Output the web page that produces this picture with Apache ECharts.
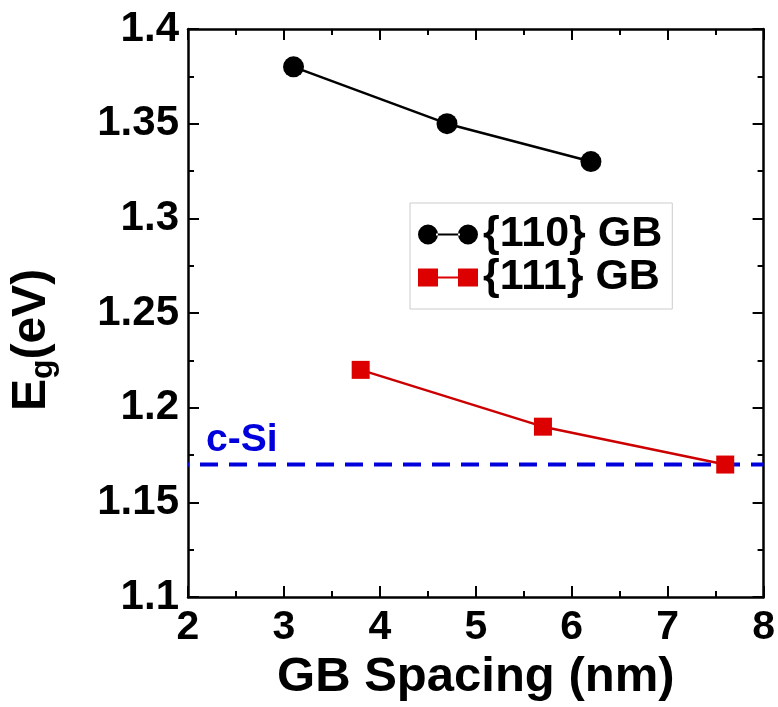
<!DOCTYPE html>
<html>
<head>
<meta charset="utf-8">
<script src="https://cdn.jsdelivr.net/npm/echarts@6/dist/echarts.min.js"></script>
<style>
  html, body { margin: 0; padding: 0; background: #fff; }
  #main { width: 778px; height: 707px; }
</style>
</head>
<body>
<div id="main"></div>
<script>
  // data
  var spacing110 = [3.1, 4.7, 6.2];
  var gap110 = [1.38, 1.35, 1.33];
  var spacing111 = [3.8, 5.7, 7.6];
  var gap111 = [1.22, 1.19, 1.17];
  var cSiX = [2, 8];
  var cSiGap = 1.17;

  function pairs(xs, ys) {
    return xs.map(function (x, i) { return [x, ys[i]]; });
  }

  var font = 'Liberation Sans';
  var chart = echarts.init(document.getElementById('main'));

  var baseX = {
    type: 'value', min: 2, max: 8, interval: 1,
    axisLine: { show: true, onZero: false, lineStyle: { color: '#000', width: 2.5 } },
    axisTick: { show: true, inside: true, length: 11, lineStyle: { color: '#000', width: 2 } },
    minorTick: { show: true, splitNumber: 2, length: 6, lineStyle: { color: '#000', width: 2 } },
    splitLine: { show: false }
  };
  var baseY = {
    type: 'value', min: 1.1, max: 1.4, interval: 0.05,
    axisLine: { show: true, onZero: false, lineStyle: { color: '#000', width: 2.5 } },
    axisTick: { show: true, inside: true, length: 11, lineStyle: { color: '#000', width: 2 } },
    minorTick: { show: true, splitNumber: 2, length: 6, lineStyle: { color: '#000', width: 2 } },
    splitLine: { show: false }
  };

  var option = {
    animation: false,
    backgroundColor: '#fff',
    grid: { left: 188, right: 12, top: 29, bottom: 103 },
    xAxis: [
      Object.assign({}, baseX, {
        position: 'bottom',
        name: 'GB Spacing (nm)',
        nameLocation: 'middle',
        nameGap: 41,
        nameTextStyle: { fontFamily: font, fontWeight: 'bold', fontSize: 49, color: '#000' },
        axisLabel: { fontFamily: font, fontWeight: 'bold', fontSize: 41, color: '#000', margin: 10 }
      }),
      Object.assign({}, baseX, { position: 'top', axisLabel: { show: false } })
    ],
    yAxis: [
      Object.assign({}, baseY, {
        position: 'left',
        axisLabel: {
          fontFamily: font, fontWeight: 'bold', fontSize: 42, color: '#000', margin: 9,
          formatter: function (v) { return String(+v.toFixed(2)); }
        }
      }),
      Object.assign({}, baseY, { position: 'right', axisLabel: { show: false } })
    ],
    legend: {
      left: 410, top: 203, orient: 'vertical',
      padding: [10, 10, 10, 8],
      borderColor: '#ccc', borderWidth: 1,
      itemWidth: 60, itemHeight: 20, itemGap: 0,
      textStyle: { fontFamily: font, fontWeight: 'bold', fontSize: 43, lineHeight: 40, color: '#000' },
      data: [
        { name: '{110} GB', icon: 'path://M0,10A10,10 0 1,0 20,10A10,10 0 1,0 0,10ZM18,9L42,9L42,11L18,11ZM40,10A10,10 0 1,0 60,10A10,10 0 1,0 40,10Z' },
        { name: '{111} GB', icon: 'path://M0,1L20,1L20,19L0,19ZM18,9L42,9L42,11L18,11ZM40,1L60,1L60,19L40,19Z' }
      ]
    },
    graphic: [
      {
        type: 'text', left: 206, top: 421,
        style: { text: 'c-Si', fontFamily: font, fontWeight: 'bold', fontSize: 39, fill: '#0000dd' }
      },
      {
        type: 'text', x: 32, y: 340, rotation: Math.PI / 2,
        style: {
          text: '{b|E}{s|g}{b|(eV)}', align: 'center', verticalAlign: 'middle',
          rich: {
            b: { fontFamily: font, fontWeight: 'bold', fontSize: 48, fill: '#000' },
            s: { fontFamily: font, fontWeight: 'bold', fontSize: 32, fill: '#000', padding: [22, 0, 0, 0] }
          }
        }
      }
    ],
    series: [
      {
        name: 'c-Si', type: 'line',
        data: pairs(cSiX, [cSiGap, cSiGap]),
        showSymbol: false, silent: true,
        lineStyle: { color: '#0000dd', width: 4, type: [18, 11], dashOffset: -12 },
        z: 1
      },
      {
        name: '{110} GB', type: 'line',
        data: pairs(spacing110, gap110),
        symbol: 'circle', symbolSize: 21,
        itemStyle: { color: '#000' },
        lineStyle: { color: '#000', width: 2.5 },
        z: 3
      },
      {
        name: '{111} GB', type: 'line',
        data: pairs(spacing111, gap111),
        symbol: 'rect', symbolSize: 18,
        itemStyle: { color: '#dd0000' },
        lineStyle: { color: '#cc0000', width: 2.5 },
        z: 3
      }
    ]
  };
  chart.setOption(option);
</script>
</body>
</html>
